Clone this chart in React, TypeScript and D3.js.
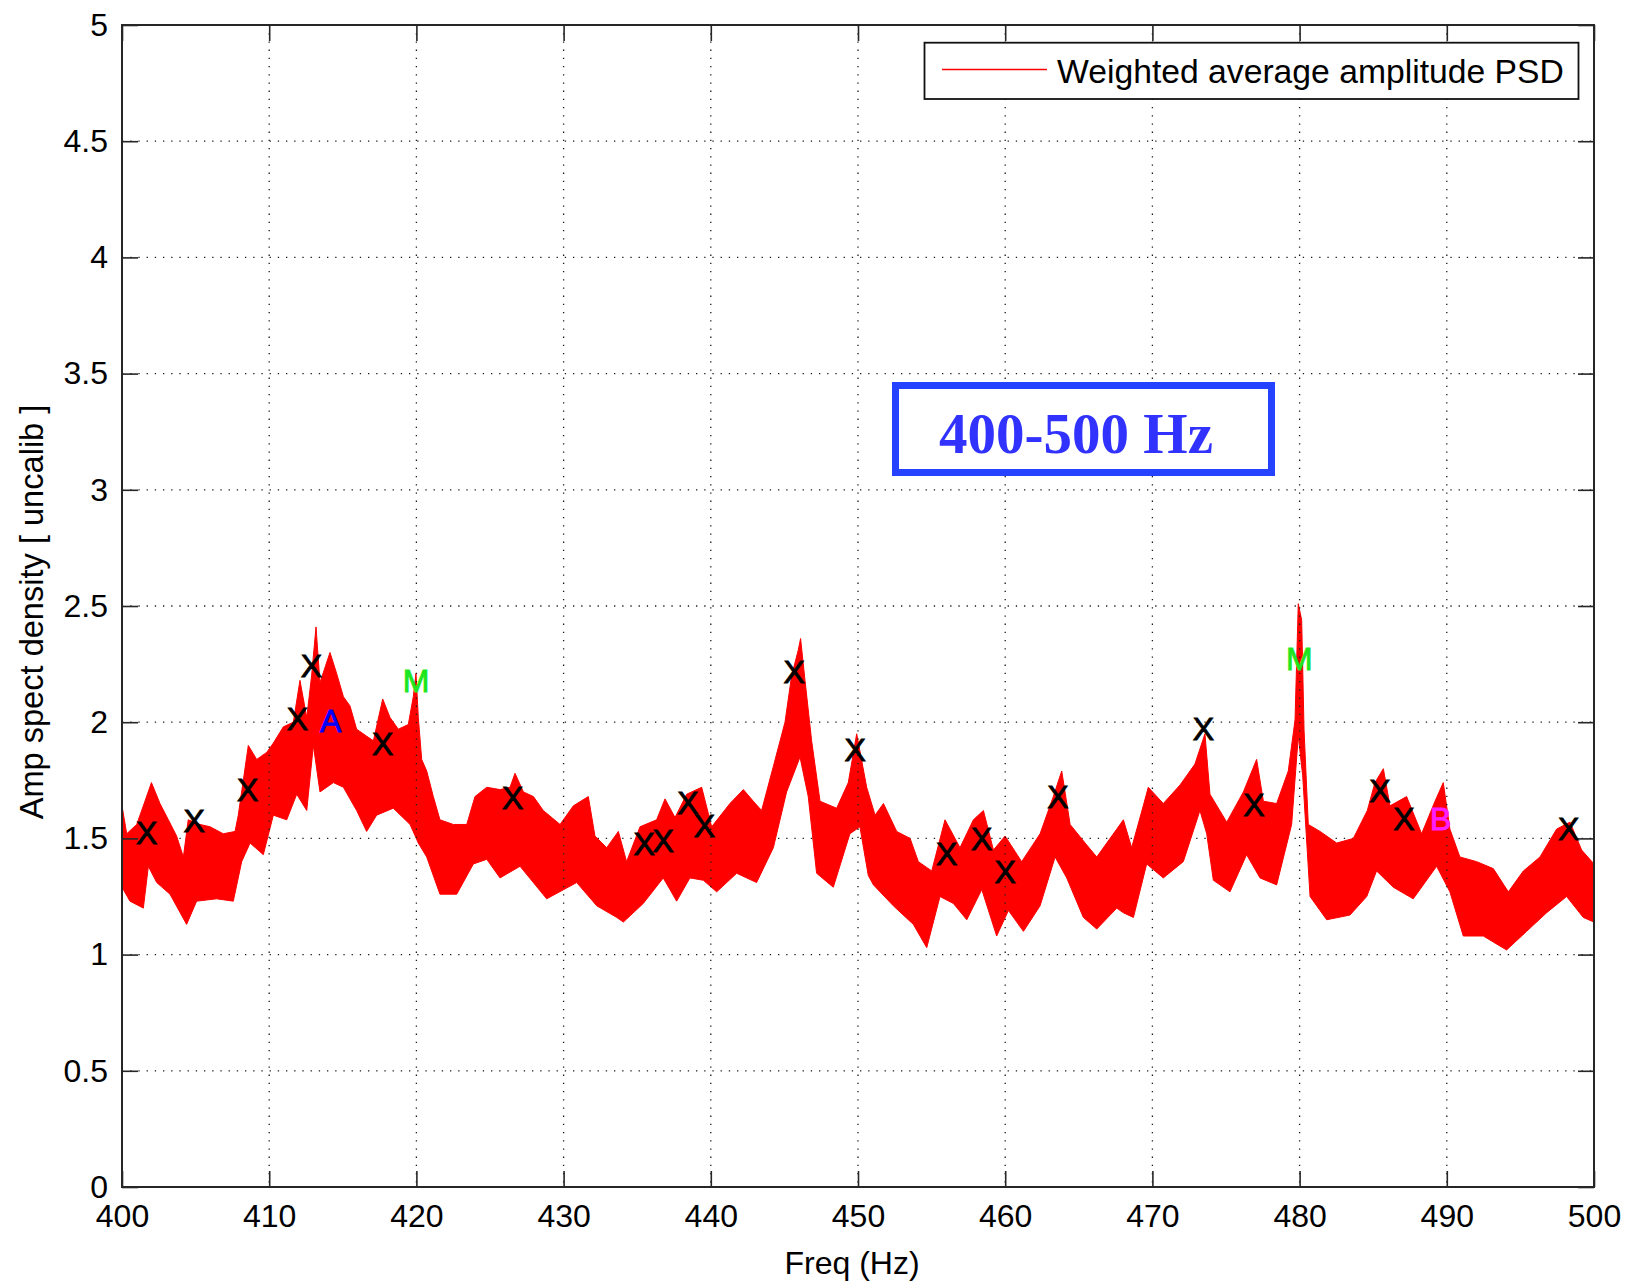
import * as d3 from "d3";
import { useEffect, useRef } from "react";

const W = 1627;
const H = 1285;

const xTicks = [400, 410, 420, 430, 440, 450, 460, 470, 480, 490, 500];
const yTicks = [0, 0.5, 1, 1.5, 2, 2.5, 3, 3.5, 4, 4.5, 5];

// upper edge of the noisy PSD band (Hz, amplitude)
const upperFreq = [400.0, 400.32, 401.0, 401.56, 402.0, 402.58, 403.15, 403.71, 404.17, 404.5, 405.3, 405.98, 406.88, 407.68, 407.9, 408.58, 409.15, 409.83, 410.28, 410.96, 411.64, 412.09, 412.55, 412.88, 413.18, 413.45, 414.13, 414.58, 415.04, 415.49, 415.94, 416.62, 417.08, 417.71, 418.21, 418.77, 419.45, 419.79, 419.97, 420.13, 420.36, 420.7, 421.15, 421.6, 422.51, 423.42, 423.98, 424.78, 425.68, 426.36, 426.7, 427.27, 427.95, 428.62, 429.76, 430.66, 431.68, 432.13, 432.93, 433.72, 434.28, 435.19, 436.32, 436.89, 437.57, 438.36, 439.38, 440.06, 441.3, 442.21, 442.89, 443.45, 444.25, 445.04, 445.49, 445.94, 446.1, 446.4, 446.85, 447.42, 448.55, 449.34, 449.91, 450.59, 451.16, 451.73, 452.63, 453.54, 454.1, 455.01, 455.91, 456.93, 457.84, 458.52, 459.2, 459.99, 461.12, 462.37, 463.27, 463.84, 464.41, 465.43, 466.22, 467.58, 468.03, 468.59, 469.38, 469.72, 470.74, 471.88, 472.89, 473.57, 473.91, 475.05, 476.18, 477.08, 477.54, 478.44, 479.23, 479.69, 479.91, 480.14, 480.3, 480.59, 481.39, 482.52, 483.65, 484.6, 485.12, 485.69, 486.14, 487.27, 488.29, 489.2, 489.76, 490.21, 490.89, 492.03, 493.16, 494.18, 495.2, 496.33, 497.46, 498.37, 499.16, 500];
const upperVal = [1.64, 1.52, 1.56, 1.66, 1.74, 1.65, 1.58, 1.51, 1.42, 1.58, 1.56, 1.55, 1.52, 1.53, 1.6, 1.9, 1.84, 1.87, 1.91, 1.98, 2.0, 2.18, 2.02, 2.2, 2.41, 2.17, 2.3, 2.21, 2.11, 2.07, 1.97, 1.94, 1.92, 2.1, 2.02, 1.97, 1.99, 2.11, 2.21, 2.02, 1.84, 1.79, 1.68, 1.58, 1.56, 1.56, 1.68, 1.72, 1.71, 1.72, 1.78, 1.7, 1.68, 1.62, 1.56, 1.64, 1.68, 1.51, 1.46, 1.53, 1.4, 1.55, 1.58, 1.67, 1.59, 1.69, 1.72, 1.55, 1.65, 1.71, 1.66, 1.62, 1.81, 2.0, 2.2, 2.31, 2.36, 2.18, 1.92, 1.66, 1.63, 1.74, 1.95, 1.72, 1.6, 1.65, 1.53, 1.5, 1.4, 1.36, 1.58, 1.46, 1.58, 1.62, 1.45, 1.51, 1.4, 1.52, 1.68, 1.79, 1.56, 1.48, 1.42, 1.54, 1.58, 1.46, 1.64, 1.72, 1.65, 1.73, 1.82, 1.95, 1.69, 1.57, 1.7, 1.84, 1.66, 1.65, 1.79, 2.01, 2.51, 2.44, 1.97, 1.56, 1.53, 1.48, 1.5, 1.62, 1.74, 1.8, 1.64, 1.68, 1.52, 1.66, 1.74, 1.54, 1.42, 1.4, 1.37, 1.27, 1.36, 1.42, 1.54, 1.57, 1.45, 1.39];

// lower edge of the band
const lowerFreq = [400.0, 400.54, 401.45, 401.79, 402.36, 403.26, 404.39, 405.07, 406.43, 407.56, 408.13, 408.7, 409.6, 410.28, 411.19, 411.87, 412.55, 413.0, 413.45, 414.36, 415.04, 415.94, 416.62, 417.3, 418.43, 419.57, 420.13, 420.7, 421.6, 422.74, 423.87, 424.78, 425.68, 427.04, 428.85, 430.89, 432.25, 433.61, 434.06, 435.41, 436.77, 437.68, 438.58, 439.49, 440.4, 441.76, 443.11, 444.25, 445.15, 446.06, 446.62, 447.19, 448.32, 449.45, 450.13, 450.7, 451.05, 452.4, 453.76, 454.67, 455.57, 456.48, 457.39, 458.41, 459.42, 460.22, 461.24, 462.37, 463.39, 464.18, 465.31, 466.22, 467.58, 468.03, 468.71, 469.61, 470.74, 472.1, 473.23, 473.69, 474.14, 475.27, 476.4, 477.31, 478.44, 479.46, 479.91, 480.21, 480.71, 481.84, 483.42, 484.56, 485.23, 486.36, 487.72, 489.31, 490.21, 491.12, 492.48, 494.06, 495.42, 496.78, 498.14, 499.27, 500];
const lowerVal = [1.29, 1.23, 1.2, 1.38, 1.31, 1.26, 1.13, 1.23, 1.24, 1.23, 1.4, 1.48, 1.43, 1.6, 1.58, 1.69, 1.62, 1.9, 1.7, 1.74, 1.72, 1.62, 1.53, 1.6, 1.63, 1.56, 1.48, 1.42, 1.26, 1.26, 1.39, 1.41, 1.33, 1.38, 1.24, 1.31, 1.21, 1.16, 1.14, 1.22, 1.33, 1.23, 1.33, 1.32, 1.27, 1.35, 1.31, 1.46, 1.7, 1.85, 1.68, 1.35, 1.29, 1.52, 1.55, 1.34, 1.3, 1.21, 1.13, 1.03, 1.25, 1.22, 1.15, 1.28, 1.08, 1.19, 1.1, 1.21, 1.42, 1.33, 1.16, 1.11, 1.2, 1.18, 1.16, 1.39, 1.33, 1.4, 1.62, 1.52, 1.32, 1.27, 1.43, 1.33, 1.3, 1.56, 1.94, 1.77, 1.25, 1.15, 1.17, 1.25, 1.36, 1.29, 1.24, 1.38, 1.27, 1.08, 1.08, 1.02, 1.1, 1.18, 1.25, 1.16, 1.14];

// line labels placed on the spectrum
const markerFreq = [401.68, 404.9, 408.54, 411.91, 412.86, 414.18, 417.71, 419.97, 426.54, 435.48, 436.77, 438.45, 439.56, 445.67, 449.8, 456.02, 458.4, 459.99, 463.59, 473.46, 476.9, 479.98, 485.46, 487.09, 489.59, 498.28];
const markerVal = [1.525, 1.575, 1.711, 2.017, 2.243, 2.006, 1.909, 2.18, 1.677, 1.479, 1.493, 1.654, 1.555, 2.217, 1.883, 1.433, 1.5, 1.357, 1.679, 1.974, 1.644, 2.275, 1.708, 1.586, 1.586, 1.543];
const markerText = ["X", "X", "X", "X", "X", "A", "X", "M", "X", "X", "X", "X", "X", "X", "X", "X", "X", "X", "X", "X", "X", "M", "X", "X", "B", "X"];

const legendLabel = "Weighted average amplitude PSD";
const bandLabel = "400-500 Hz";

const font = "'Liberation Sans', Arial, Helvetica, sans-serif";
const markerColor: Record<string, string> = { X: "#000", A: "#0000ff", M: "#1ee61e", B: "#ff1eff" };

export default function App() {
  const svgRef = useRef<SVGSVGElement>(null);

  useEffect(() => {
    const svg = d3.select(svgRef.current);
    svg.selectAll("*").remove();

    const left = 122, right = 1594, top = 25, bottom = 1187;
    const x = d3.scaleLinear().domain([400, 500]).range([left, right]);
    const y = d3.scaleLinear().domain([0, 5]).range([bottom, top]);

    const dots = (sel: any) =>
      sel.attr("stroke", "#1a1a1a").attr("stroke-width", 1.3).attr("stroke-dasharray", "1.3 6.9");

    // horizontal grid (sits under the data)
    svg.append("g").selectAll("line")
      .data(yTicks.slice(1, -1))
      .join("line")
      .attr("x1", left).attr("x2", right)
      .attr("y1", d => y(d)).attr("y2", d => y(d))
      .call(dots);

    // PSD band: upper edge left->right, then lower edge back
    const pts: [number, number][] = upperFreq.map((f, i) => [f, upperVal[i]] as [number, number])
      .concat(lowerFreq.map((f, i) => [f, lowerVal[i]] as [number, number]).reverse());
    const line = d3.line<[number, number]>().x(d => x(d[0])).y(d => y(d[1]));
    svg.append("path")
      .attr("d", line(pts) + "Z")
      .attr("fill", "#ff0000")
      .attr("stroke", "#ff0000")
      .attr("stroke-width", 1)
      .attr("stroke-linejoin", "round");

    // vertical grid (visible over the band)
    svg.append("g").selectAll("line")
      .data(xTicks.slice(1, -1))
      .join("line")
      .attr("x1", d => x(d)).attr("x2", d => x(d))
      .attr("y1", top).attr("y2", bottom)
      .call(dots);

    // markers
    svg.append("g").selectAll("text")
      .data(markerText)
      .join("text")
      .attr("x", (_, i) => x(markerFreq[i]))
      .attr("y", (_, i) => y(markerVal[i]))
      .attr("dy", "0.36em")
      .attr("text-anchor", "middle")
      .attr("font-family", font)
      .attr("font-size", 32)
      .attr("fill", d => markerColor[d])
      .attr("stroke", d => markerColor[d])
      .attr("stroke-width", 0.9)
      .text(d => d);

    // axes, ticks pointing inward on all four sides
    const styleAxis = (g: any) => {
      g.select(".domain").remove();
      g.attr("font-size", 32).attr("font-family", font).attr("color", "#000");
      g.selectAll(".tick line").attr("stroke", "#262626").attr("stroke-width", 1.6);
    };
    svg.append("g").attr("transform", `translate(0,${bottom})`)
      .call(d3.axisBottom(x).tickValues(xTicks).tickSizeInner(-16).tickSizeOuter(0).tickPadding(17).tickFormat(d3.format("d")))
      .call(styleAxis);
    svg.append("g").attr("transform", `translate(0,${top})`)
      .call(d3.axisTop(x).tickValues(xTicks).tickSizeInner(-16).tickSizeOuter(0).tickFormat(() => ""))
      .call(styleAxis);
    svg.append("g").attr("transform", `translate(${left},0)`)
      .call(d3.axisLeft(y).tickValues(yTicks).tickSizeInner(-16).tickSizeOuter(0).tickPadding(14).tickFormat(d3.format("")))
      .call(styleAxis);
    svg.append("g").attr("transform", `translate(${right},0)`)
      .call(d3.axisRight(y).tickValues(yTicks).tickSizeInner(-16).tickSizeOuter(0).tickFormat(() => ""))
      .call(styleAxis);

    svg.append("rect")
      .attr("x", left).attr("y", top)
      .attr("width", right - left).attr("height", bottom - top)
      .attr("fill", "none").attr("stroke", "#262626").attr("stroke-width", 2);

    // axis titles
    svg.append("text")
      .attr("x", (left + right) / 2 - 6).attr("y", 1274)
      .attr("text-anchor", "middle")
      .attr("font-family", font).attr("font-size", 32)
      .text("Freq (Hz)");
    svg.append("text")
      .attr("transform", "translate(31,612) rotate(-90)")
      .attr("dy", "0.36em")
      .attr("text-anchor", "middle")
      .attr("font-family", font).attr("font-size", 32.6)
      .text("Amp spect density [ uncalib ]");

    // legend
    const lg = svg.append("g");
    lg.append("rect")
      .attr("x", 924.5).attr("y", 42.7).attr("width", 654).attr("height", 56.3)
      .attr("fill", "#fff").attr("stroke", "#111").attr("stroke-width", 1.8);
    lg.append("line")
      .attr("x1", 942).attr("x2", 1047).attr("y1", 69.5).attr("y2", 69.5)
      .attr("stroke", "#ff0000").attr("stroke-width", 1.5);
    lg.append("text")
      .attr("x", 1057).attr("y", 83)
      .attr("font-family", font).attr("font-size", 33.7)
      .text(legendLabel);

    // band annotation box
    svg.append("rect")
      .attr("x", 895.5).attr("y", 385.5).attr("width", 376).attr("height", 87)
      .attr("fill", "#fff").attr("stroke", "#2442ff").attr("stroke-width", 7);
    svg.append("text")
      .attr("x", 1076).attr("y", 453)
      .attr("text-anchor", "middle")
      .attr("font-family", "'Liberation Serif', 'Times New Roman', serif")
      .attr("font-weight", "bold").attr("font-size", 57)
      .attr("fill", "#3232ff")
      .text(bandLabel);
  }, []);

  return (
    <svg
      ref={svgRef}
      width={W}
      height={H}
      viewBox={`0 0 ${W} ${H}`}
      style={{ position: "absolute", left: 0, top: 0, background: "#fff" }}
      xmlns="http://www.w3.org/2000/svg"
    />
  );
}
